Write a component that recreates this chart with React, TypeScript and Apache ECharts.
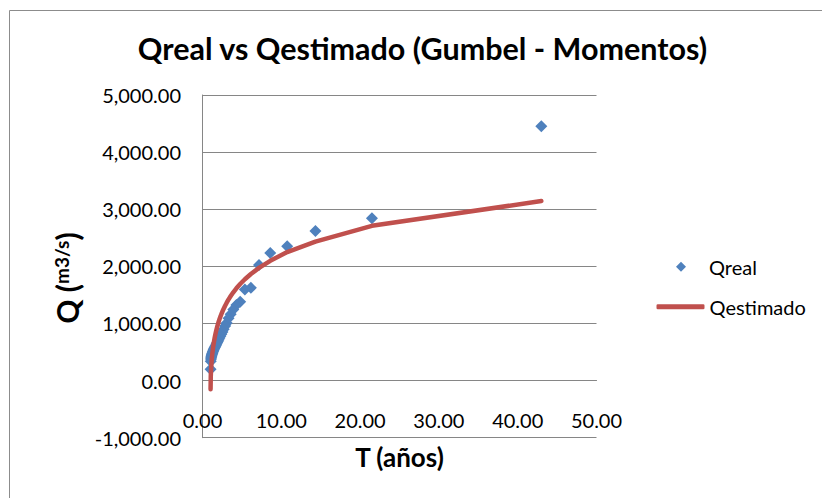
import React, { useEffect, useRef } from "react";
import * as echarts from "echarts";

const TITLE = "Qreal vs Qestimado (Gumbel - Momentos)";
const X_NAME = "T (años)";
const SERIES_REAL = "Qreal";
const SERIES_EST = "Qestimado";

// Return period T (años) of each observation
const T_REAL = [
  43.0, 21.5, 14.33, 10.75, 8.6, 7.17, 6.14, 5.38, 4.78, 4.3, 3.91, 3.58, 3.31, 3.07,
  2.87, 2.69, 2.53, 2.39, 2.26, 2.15, 2.05, 1.95, 1.87, 1.79, 1.72, 1.65, 1.59, 1.54,
  1.48, 1.43, 1.39, 1.34, 1.3, 1.26, 1.23, 1.19, 1.16, 1.13, 1.1, 1.075, 1.049, 1.024,
];
// Observed discharge Q (m3/s)
const Q_REAL = [
  4455, 2840, 2620, 2350, 2235, 2025, 1625, 1595, 1380, 1325, 1245, 1160, 1090, 1010,
  955, 900, 850, 810, 775, 745, 715, 690, 665, 645, 625, 605, 590, 575,
  560, 545, 530, 515, 500, 485, 470, 455, 440, 420, 400, 380, 340, 200,
];
// Estimated discharge (Gumbel - Momentos)
const Q_EST = [
  3143, 2710, 2434, 2250, 2096, 1973, 1866, 1774, 1691, 1615, 1546, 1480, 1421, 1363,
  1311, 1259, 1209, 1162, 1115, 1072, 1029, 984, 944, 902, 863, 820, 781, 746,
  700, 659, 624, 576, 534, 487, 449, 392, 344, 288, 223, 157, 68, -150,
];

const Y_MIN = -1000;
const Y_MAX = 5000;
const Y_STEP = 1000;
const X_MIN = 0;
const X_MAX = 50;
const X_STEP = 10;

const FONT = "Lato, 'Open Sans', sans-serif";

const fmtThousands = (v: number) => {
  const s = Math.abs(v).toFixed(2).replace(/\B(?=(\d{3})+(?!\d))/g, ",");
  return (v < 0 ? "-" : "") + s;
};

export default function App() {
  const ref = useRef<HTMLDivElement>(null);

  useEffect(() => {
    if (!ref.current) return;
    const chart = echarts.init(ref.current, undefined, { renderer: "svg" });
    const realData = T_REAL.map((t, i) => [t, Q_REAL[i]]);
    const estData = T_REAL.map((t, i) => [t, Q_EST[i]]);
    const grid = "#868686";
    const legendText = { fontFamily: FONT, fontSize: 20, color: "#000" };

    chart.setOption({
      animation: false,
      backgroundColor: "#ffffff",
      textStyle: { fontFamily: FONT },
      grid: { left: 202.5, top: 95, right: 225.5, bottom: 60.3, containLabel: false },
      graphic: [
        {
          type: "rect",
          shape: { x: 9.5, y: 10.5, width: 900, height: 600 },
          style: { fill: "none", stroke: "#8c8c8c", lineWidth: 1 },
          silent: true,
        },
        {
          type: "text",
          x: 422.5,
          y: 48,
          style: {
            text: TITLE,
            align: "center",
            verticalAlign: "middle",
            fontFamily: FONT,
            fontWeight: "bold",
            fontSize: 30.5,
            fill: "#000",
          },
        },
        {
          type: "text",
          x: 67,
          y: 278,
          rotation: Math.PI / 2,
          style: {
            text: "{a|Q (}{b|m3/s}{a|)}",
            align: "center",
            verticalAlign: "middle",
            fill: "#000",
            rich: {
              a: { fontFamily: FONT, fontWeight: "bold", fontSize: 30, fill: "#000" },
              b: {
                fontFamily: FONT,
                fontWeight: "bold",
                fontSize: 19,
                fill: "#000",
                verticalAlign: "top",
              },
            },
          },
        },
      ],
      legend: [
        {
          orient: "vertical",
          left: 676,
          top: 256.7,
          padding: 0,
          itemWidth: 10,
          itemHeight: 10,
          textStyle: { ...legendText, padding: [0, 0, 0, 18] },
          data: [{ name: SERIES_REAL, icon: "diamond", itemStyle: { opacity: 1 } }],
        },
        {
          orient: "vertical",
          left: 656.5,
          top: 296.7,
          padding: 0,
          itemWidth: 48,
          itemHeight: 5,
          textStyle: legendText,
          data: [{ name: SERIES_EST, icon: "roundRect" }],
        },
      ],
      xAxis: {
        type: "value",
        min: X_MIN,
        max: X_MAX,
        interval: X_STEP,
        name: X_NAME,
        nameLocation: "middle",
        nameGap: 6,
        nameTextStyle: {
          fontFamily: FONT,
          fontWeight: "bold",
          fontSize: 26,
          color: "#000",
          verticalAlign: "top",
        },
        axisLine: { show: true, lineStyle: { color: grid, width: 1 } },
        axisTick: { show: false },
        splitLine: { show: false },
        axisLabel: {
          inside: true,
          margin: 8,
          fontFamily: FONT,
          fontSize: 20,
          color: "#000",
          formatter: (v: number) => v.toFixed(2),
        },
      },
      yAxis: {
        type: "value",
        min: Y_MIN,
        max: Y_MAX,
        interval: Y_STEP,
        axisLine: { show: true, lineStyle: { color: grid, width: 1 } },
        axisTick: { show: false },
        splitLine: { show: true, lineStyle: { color: grid, width: 1 } },
        axisLabel: {
          margin: 21.5,
          fontFamily: FONT,
          fontSize: 20,
          color: "#000",
          formatter: (v: number) => fmtThousands(v),
        },
      },
      series: [
        {
          name: SERIES_REAL,
          type: "scatter",
          data: realData,
          symbol: "diamond",
          symbolSize: 12,
          itemStyle: { color: "#4F81BD", opacity: 1 },
        },
        {
          name: SERIES_EST,
          type: "line",
          data: estData,
          showSymbol: false,
          symbol: "none",
          lineStyle: { color: "#C0504D", width: 4.5, cap: "round", join: "round" },
          itemStyle: { color: "#C0504D" },
        },
      ],
    });
    return () => chart.dispose();
  }, []);

  return (
    <div
      ref={ref}
      style={{ position: "fixed", left: 0, top: 0, width: 822, height: 498, background: "#fff" }}
    />
  );
}
